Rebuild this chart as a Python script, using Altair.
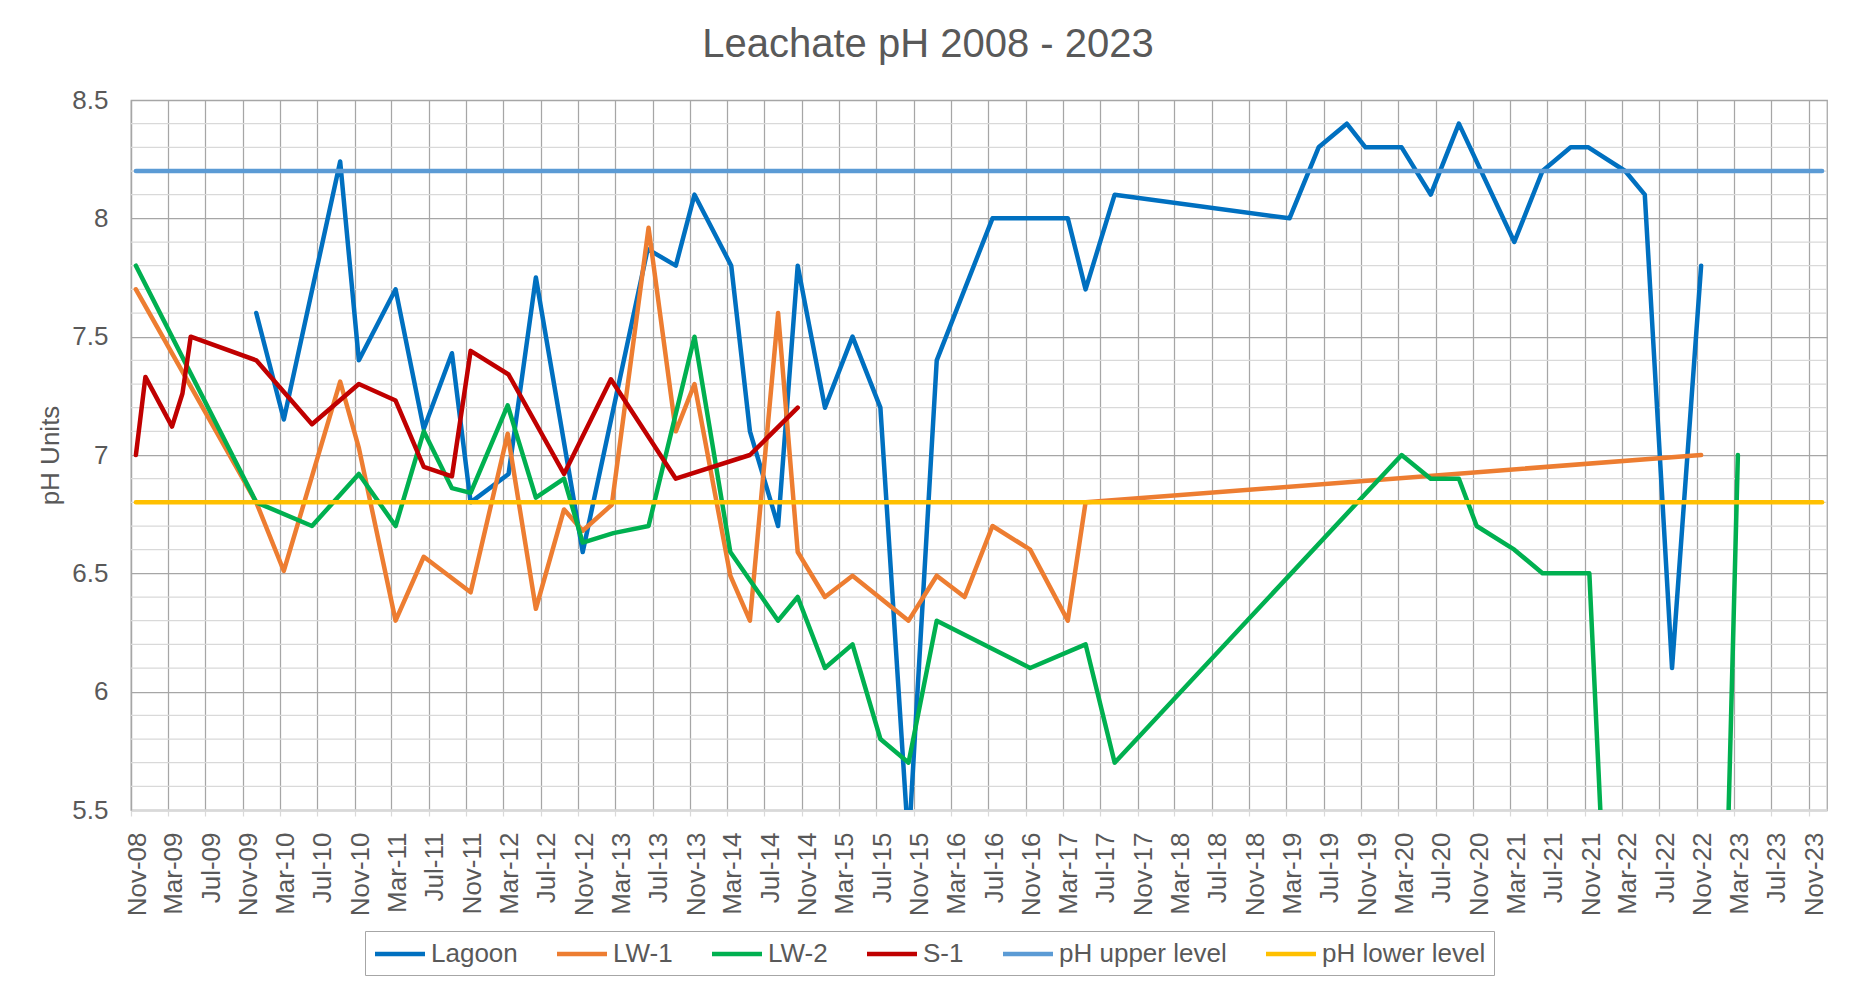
import altair as alt
import pandas as pd

# ---------------- data ----------------
lagoon_dates = ["2009-12-15", "2010-03-15", "2010-09-15", "2010-11-15", "2011-03-15",
                "2011-06-15", "2011-09-15", "2011-11-15", "2012-03-18", "2012-06-15",
                "2012-11-15", "2013-06-15", "2013-09-15", "2013-11-15", "2014-03-15",
                "2014-05-15", "2014-08-15", "2014-10-18", "2015-01-15", "2015-04-15",
                "2015-07-15", "2015-10-15", "2016-01-15", "2016-07-15", "2017-03-18",
                "2017-05-15", "2017-08-18", "2019-03-12", "2019-06-15", "2019-09-15",
                "2019-11-15", "2020-03-12", "2020-06-15", "2020-09-15", "2021-03-15",
                "2021-06-15", "2021-09-15", "2021-11-12", "2022-03-12", "2022-05-15",
                "2022-08-12", "2022-11-15"]
lagoon_ph = [7.60, 7.15, 8.24, 7.40, 7.70,
             7.11, 7.43, 6.80, 6.92, 7.75,
             6.59, 7.87, 7.80, 8.10, 7.80,
             7.10, 6.70, 7.80, 7.20, 7.50,
             7.20, 5.35, 7.40, 8.00, 8.00,
             7.70, 8.10, 8.00, 8.30, 8.40,
             8.30, 8.30, 8.10, 8.40, 7.90,
             8.20, 8.30, 8.30, 8.20, 8.10,
             6.10, 7.80]

lw1_dates = ["2008-11-17", "2009-12-15", "2010-03-15", "2010-09-15", "2010-11-15",
             "2011-03-15", "2011-06-15", "2011-11-15", "2012-03-15", "2012-06-15",
             "2012-09-15", "2012-11-15", "2013-02-18", "2013-06-18", "2013-09-15",
             "2013-11-15", "2014-03-12", "2014-05-15", "2014-08-15", "2014-10-18",
             "2015-01-15", "2015-04-15", "2015-10-15", "2016-01-15", "2016-04-15",
             "2016-07-15", "2016-11-15", "2017-03-18", "2017-05-15", "2022-11-15"]
lw1_ph = [7.70, 6.80, 6.51, 7.31, 7.03,
          6.30, 6.57, 6.42, 7.09, 6.35,
          6.77, 6.68, 6.79, 7.96, 7.10,
          7.30, 6.49, 6.30, 7.60, 6.59,
          6.40, 6.49, 6.30, 6.49, 6.40,
          6.70, 6.60, 6.30, 6.80, 7.00]

lw2_dates = ["2008-11-17", "2009-12-15", "2010-06-15", "2010-11-15", "2011-03-15",
             "2011-06-15", "2011-09-15", "2011-11-15", "2012-03-15", "2012-06-15",
             "2012-09-15", "2012-11-15", "2013-02-23", "2013-06-18", "2013-11-15",
             "2014-03-12", "2014-08-15", "2014-10-18", "2015-01-15", "2015-04-15",
             "2015-07-15", "2015-10-15", "2016-01-15", "2016-11-15", "2017-05-15",
             "2017-08-18", "2020-03-12", "2020-06-15", "2020-09-15", "2020-11-12",
             "2021-03-15", "2021-06-15", "2021-11-15", "2022-07-06", "2022-10-25",
             "2023-03-15"]
lw2_ph = [7.80, 6.80, 6.70, 6.92, 6.70,
          7.10, 6.86, 6.84, 7.21, 6.82,
          6.90, 6.63, 6.67, 6.70, 7.50,
          6.59, 6.30, 6.40, 6.10, 6.20,
          5.80, 5.70, 6.30, 6.10, 6.20,
          5.70, 7.00, 6.90, 6.90, 6.70,
          6.60, 6.50, 6.50, 0.00, 0.00,
          7.00]

s1_dates = ["2008-11-17", "2008-12-18", "2009-03-15", "2009-04-18", "2009-05-15",
            "2009-12-15", "2010-06-15", "2010-11-15", "2011-03-15", "2011-06-15",
            "2011-09-15", "2011-11-15", "2012-03-18", "2012-09-15", "2013-02-15",
            "2013-09-15", "2014-05-15", "2014-10-18"]
s1_ph = [7.00, 7.33, 7.12, 7.26, 7.50,
         7.40, 7.13, 7.30, 7.23, 6.95,
         6.91, 7.44, 7.34, 6.92, 7.32,
         6.90, 7.00, 7.20]

level_dates = ["2008-11-17", "2023-12-15"]
upper_ph = [8.2, 8.2]
lower_ph = [6.8, 6.8]

series_names = ["Lagoon", "LW-1", "LW-2", "S-1", "pH upper level", "pH lower level"]
series_colors = ["#0070C0", "#ED7D31", "#00B050", "#C00000", "#5B9BD5", "#FFC000"]

y_major = [5.5, 6.0, 6.5, 7.0, 7.5, 8.0, 8.5]
y_minor = [round(5.5 + 0.1 * i, 1) for i in range(31) if i % 5 != 0]

# x tick positions: every 4 months, Nov-08 .. Nov-23
x_ticks = []
for k in range(0, 181, 4):
    tot = 2008 * 12 + 10 + k
    x_ticks.append(alt.DateTime(year=tot // 12, month=tot % 12 + 1, date=1, utc=True))

# ---------------- table ----------------
rows = []
for name, ds, vs in [("Lagoon", lagoon_dates, lagoon_ph),
                     ("LW-1", lw1_dates, lw1_ph),
                     ("LW-2", lw2_dates, lw2_ph),
                     ("S-1", s1_dates, s1_ph),
                     ("pH upper level", level_dates, upper_ph),
                     ("pH lower level", level_dates, lower_ph)]:
    for d, v in zip(ds, vs):
        rows.append({"series": name, "date": d, "ph": v})
df = pd.DataFrame(rows)
minor_df = pd.DataFrame({"ph": y_minor})

FONT = "Liberation Sans"
TXT = "#595959"

y_scale = alt.Scale(domain=[5.5, 8.5], nice=False, zero=False)
x_scale = alt.Scale(type="utc",
                    domain=[alt.DateTime(year=2008, month=11, date=1, utc=True),
                            alt.DateTime(year=2023, month=12, date=31, utc=True)],
                    nice=False)

y_axis = alt.Axis(values=y_major, format="~g",
                  labelFontSize=26, labelColor=TXT, labelFont=FONT,
                  labelPadding=23, ticks=False, tickSize=0,
                  grid=True, gridColor="#a6a6a6", gridWidth=1.25,
                  domainColor="#a6a6a6", domainWidth=1.25,
                  titleFontSize=26, titleColor=TXT, titleFont=FONT,
                  titleFontWeight="normal", titleAngle=270,
                  titleX=-81, titleY=355, titleAlign="center",
                  titleBaseline="middle")

minor = alt.Chart(minor_df).mark_rule(color="#d9d9d9", strokeWidth=1.25).encode(
    y=alt.Y("ph:Q", scale=y_scale, axis=y_axis, title="pH Units")
)

lines = alt.Chart(df).mark_line(strokeWidth=4.5, clip=True, strokeCap="round",
                                strokeJoin="round").encode(
    x=alt.X("date:T", scale=x_scale, title=None,
            axis=alt.Axis(values=x_ticks,
                          labelExpr="utcFormat(datum.value, '%b-%y')",
                          labelAngle=270, labelFontSize=26, labelColor=TXT,
                          labelFont=FONT, labelPadding=16, labelOffset=6,
                          labelOverlap=False, labelFlush=False,
                          grid=True, gridColor="#a6a6a6", gridWidth=1.25,
                          domainColor="#d9d9d9", domainWidth=2.5,
                          tickColor="#d9d9d9", tickSize=6, tickWidth=1.25)),
    y=alt.Y("ph:Q", scale=y_scale, title="pH Units", axis=y_axis),
    color=alt.Color("series:N",
                    scale=alt.Scale(domain=series_names, range=series_colors),
                    legend=alt.Legend(title=None, orient="none", direction="horizontal",
                                      legendX=234, legendY=831,
                                      symbolType="M-2,0L2,0", symbolSize=625,
                                      symbolOffset=12, symbolStrokeWidth=4.5,
                                      symbolFillColor="transparent",
                                      labelFontSize=26, labelColor=TXT, labelFont=FONT,
                                      labelOffset=16, columnPadding=30, padding=8,
                                      strokeColor="#a6a6a6", fillColor="white",
                                      labelLimit=400)),
)

chart = alt.layer(minor, lines).properties(
    width=1696, height=710,
    padding={"left": 123, "top": 92, "right": 21, "bottom": 170},
    autosize=alt.AutoSizeParams(type="none"),
    title=alt.TitleParams("Leachate pH 2008 - 2023", fontSize=40, color=TXT,
                          font=FONT, fontWeight="normal", anchor="middle",
                          dx=-51, offset=22),
).configure_view(stroke="#a6a6a6", strokeWidth=1.25)

chart.save("out.html", embed_options={"renderer": "svg", "actions": False})
